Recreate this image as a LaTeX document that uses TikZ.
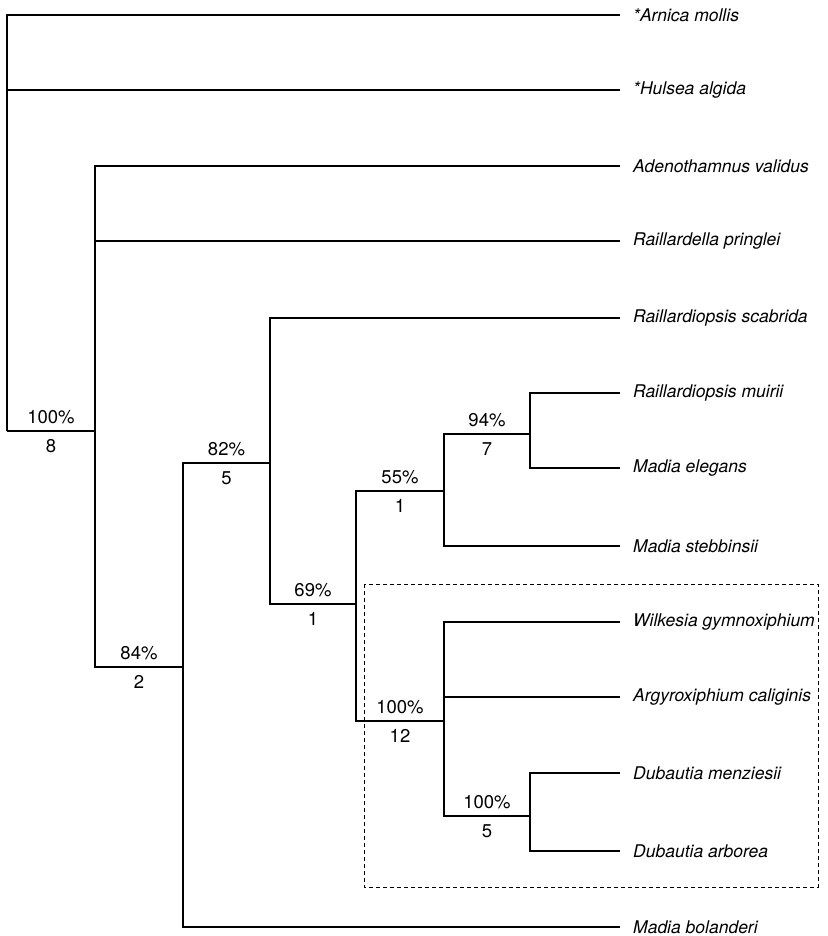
\documentclass[tikz,border=0pt]{standalone}
\usepackage{fontspec}
\setmainfont{TeX Gyre Heros}
\newcommand{\taxonfont}{\fontsize{17.5pt}{21pt}\selectfont\itshape}
\newcommand{\supportfont}{\fontsize{18.5pt}{22pt}\selectfont}
\begin{document}
\begin{tikzpicture}[x=1pt,y=-1pt]

% definitions
\tikzstyle{taxon} = [anchor=west, inner xsep=13pt, inner ysep=0pt, font=\taxonfont]

\tikzstyle{branch} = [line width=1.6pt]

\tikzstyle{support} = [inner sep=1pt, font=\supportfont]

\tikzstyle{group} = [line width=0.8pt, dash pattern=on 4pt off 3pt]

\useasboundingbox (0,0) rectangle (827,936);

% the taxa
\node (t1) [taxon] at (620,15) {*Arnica mollis};
\node (t2) [taxon] at (620,90) {*Hulsea algida};
\node (t3) [taxon] at (620,166) {Adenothamnus validus};
\node (t4) [taxon] at (620,241) {Raillardella pringlei};
\node (t5) [taxon] at (620,318) {Raillardiopsis scabrida};
\node (t6) [taxon] at (620,393) {Raillardiopsis muirii};
\node (t7) [taxon] at (620,468) {Madia elegans};
\node (t8) [taxon] at (620,546) {Madia stebbinsii};
\node (t9) [taxon] at (620,622) {Wilkesia gymnoxiphium};
\node (t10) [taxon] at (620,697) {Argyroxiphium caliginis};
\node (t11) [taxon] at (620,773) {Dubautia menziesii};
\node (t12) [taxon] at (620,851) {Dubautia arborea};
\node (t13) [taxon] at (620,927) {Madia bolanderi};

% the internal nodes
\coordinate (n0) at (7,431);
\coordinate (n1) at (95,431);
\coordinate (n2) at (183,667);
\coordinate (n3) at (270,463);
\coordinate (n4) at (356,604);
\coordinate (n5) at (444,491);
\coordinate (n6) at (530,434);
\coordinate (n7) at (444,721);
\coordinate (n8) at (530,816);

% the tree
\draw [branch] (n0) |- (t1);
\draw [branch] (n0) |- (t2);
\draw [branch] (n0) |- (n1) node[support, pos=0.75, above=5pt] {100\%} node[support, pos=0.75, below=7pt] {8};

\draw [branch] (n1) |- (t3);
\draw [branch] (n1) |- (t4);
\draw [branch] (n1) |- (n2) node[support, pos=0.75, above=5pt] {84\%} node[support, pos=0.75, below=7pt] {2};

\draw [branch] (n2) |- (n3) node[support, pos=0.75, above=5pt] {82\%} node[support, pos=0.75, below=7pt] {5};
\draw [branch] (n2) |- (t13);

\draw [branch] (n3) |- (t5);
\draw [branch] (n3) |- (n4) node[support, pos=0.75, above=5pt] {69\%} node[support, pos=0.75, below=7pt] {1};

\draw [branch] (n4) |- (n5) node[support, pos=0.75, above=5pt] {55\%} node[support, pos=0.75, below=7pt] {1};
\draw [branch] (n4) |- (n7) node[support, pos=0.75, above=5pt] {100\%} node[support, pos=0.75, below=7pt] {12};

\draw [branch] (n5) |- (n6) node[support, pos=0.75, above=5pt] {94\%} node[support, pos=0.75, below=7pt] {7};
\draw [branch] (n5) |- (t8);

\draw [branch] (n6) |- (t6);
\draw [branch] (n6) |- (t7);

\draw [branch] (n7) |- (t9);
\draw [branch] (n7) |- (t10);
\draw [branch] (n7) |- (n8) node[support, pos=0.75, above=5pt] {100\%} node[support, pos=0.75, below=7pt] {5};

\draw [branch] (n8) |- (t11);
\draw [branch] (n8) |- (t12);

% the Hawaiian group
\draw [group] (364,584) rectangle (818,887);

\end{tikzpicture}
\end{document}
